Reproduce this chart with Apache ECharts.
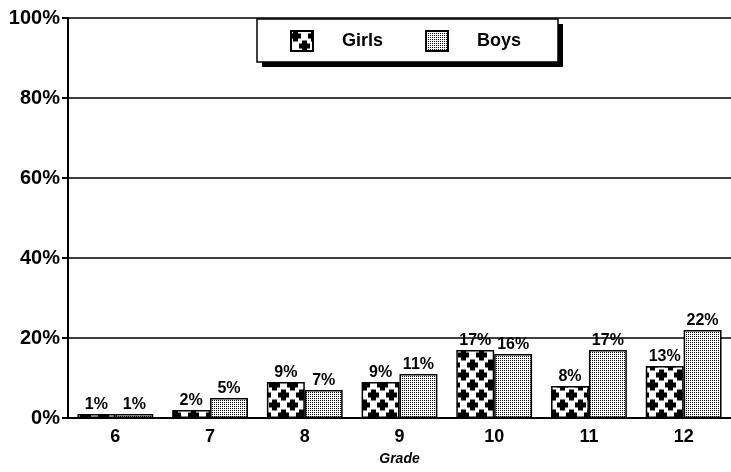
<!DOCTYPE html>
<html>
<head>
<meta charset="utf-8">
<script src="https://cdn.jsdelivr.net/npm/echarts@6/dist/echarts.min.js"></script>
<style>
  html, body { margin: 0; padding: 0; background: #fff; }
  #chart { width: 731px; height: 472px; }
</style>
</head>
<body>
<div id="chart"></div>
<script>
const grades = ["6", "7", "8", "9", "10", "11", "12"]
const girls = [1, 2, 9, 9, 17, 8, 13]
const boys = [1, 5, 7, 11, 16, 17, 22]
const yTicks = [0, 20, 40, 60, 80, 100]

// white tile with staggered black plus signs
function crossPattern() {
  const c = document.createElement("canvas")
  c.width = 18; c.height = 20
  const g = c.getContext("2d")
  g.fillStyle = "#fff"; g.fillRect(0, 0, 18, 20)
  g.fillStyle = "#000"
  const plus = (x, y) => {
    g.fillRect(x - 5.5, y - 2.5, 11, 5)
    g.fillRect(x - 2.5, y - 5.5, 5, 11)
  }
  plus(4.5, 5); plus(22.5, 5); plus(-13.5, 5)
  plus(13.5, 15); plus(-4.5, 15)
  plus(4.5, 25); plus(22.5, 25)
  plus(13.5, -5); plus(-4.5, -5)
  return c
}

// fine stipple
function dotPattern() {
  const c = document.createElement("canvas")
  c.width = 2; c.height = 2
  const g = c.getContext("2d")
  g.fillStyle = "#fff"; g.fillRect(0, 0, 2, 2)
  g.fillStyle = "#000"; g.fillRect(0, 0, 1, 1)
  return c
}

const chart = echarts.init(document.getElementById("chart"))
const font = "'Liberation Sans', Arial, sans-serif"

const labelStyle = {
  show: true,
  position: "top",
  distance: 1,
  formatter: p => p.value + "%",
  color: "#000",
  fontFamily: font,
  fontWeight: "bold",
  fontSize: 16,
}

chart.setOption({
  animation: false,
  grid: { left: 68, right: 0, top: 18, bottom: 54 },
  // legend frame with a hard drop shadow
  graphic: [
    { type: "rect", z: 50, shape: { x: 262, y: 24, width: 301, height: 43 }, style: { fill: "#000" } },
    { type: "rect", z: 51, shape: { x: 257, y: 19, width: 301, height: 43 }, style: { fill: "#fff", stroke: "#000", lineWidth: 1.5 } },
  ],
  legend: {
    top: 19,
    left: 257,
    z: 60,
    itemWidth: 22,
    itemHeight: 20,
    itemGap: 42,
    padding: [11, 28, 12, 33],
    textStyle: { color: "#000", fontFamily: font, fontWeight: "bold", fontSize: 18, padding: [0, 0, 0, 24] },
    data: [
      { name: "Girls", icon: "rect" },
      { name: "Boys", icon: "rect" },
    ],
  },
  xAxis: {
    type: "category",
    data: grades,
    name: "Grade",
    nameLocation: "middle",
    nameGap: 34,
    nameTextStyle: { color: "#000", fontFamily: font, fontWeight: "bold", fontStyle: "italic", fontSize: 14 },
    axisLine: { lineStyle: { color: "#000", width: 2 } },
    axisTick: { show: false },
    axisLabel: { color: "#000", fontFamily: font, fontWeight: "bold", fontSize: 18, margin: 10 },
  },
  yAxis: {
    type: "value",
    min: 0,
    max: 100,
    interval: 20,
    axisLine: { show: true, lineStyle: { color: "#000", width: 2 } },
    axisTick: { show: true, length: 6, lineStyle: { color: "#000", width: 2 } },
    splitLine: { lineStyle: { color: "#000", width: 1.5 } },
    axisLabel: {
      color: "#000", fontFamily: font, fontWeight: "bold", fontSize: 20, margin: 8,
      formatter: v => yTicks.includes(v) ? v + "%" : "",
    },
  },
  series: [
    {
      name: "Girls",
      type: "bar",
      data: girls,
      barGap: "0%",
      barCategoryGap: "20%",
      itemStyle: { color: { image: crossPattern(), repeat: "repeat" }, borderColor: "#000", borderWidth: 1.5 },
      label: labelStyle,
    },
    {
      name: "Boys",
      type: "bar",
      data: boys,
      itemStyle: { color: { image: dotPattern(), repeat: "repeat" }, borderColor: "#000", borderWidth: 1.5 },
      label: labelStyle,
    },
  ],
})
</script>
</body>
</html>
